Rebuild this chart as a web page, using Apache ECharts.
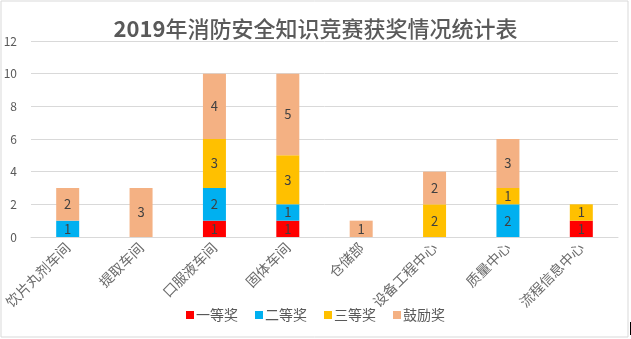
<!DOCTYPE html>
<html>
<head>
<meta charset="utf-8">
<script src="https://cdn.jsdelivr.net/npm/echarts@6/dist/echarts.min.js"></script>
<style>
  html, body { margin: 0; padding: 0; background: #fff; }
  #chart { width: 631px; height: 339px; }
</style>
</head>
<body>
<div id="chart"></div>
<script>
// Departments along the x axis
const departments = ['饮片丸剂车间', '提取车间', '口服液车间', '固体车间', '仓储部', '设备工程中心', '质量中心', '流程信息中心'];
// Award counts per department
const firstPrize = [0, 0, 1, 1, 0, 0, 0, 1];
const secondPrize = [1, 0, 2, 1, 0, 0, 2, 0];
const thirdPrize = [0, 0, 3, 3, 0, 2, 1, 1];
const encouragement = [2, 3, 4, 5, 1, 2, 3, 0];
// Y axis ticks
const yTicks = [0, 2, 4, 6, 8, 10, 12];

const seriesDefs = [
  { name: '一等奖', data: firstPrize, color: '#FF0000' },
  { name: '二等奖', data: secondPrize, color: '#00B0F0' },
  { name: '三等奖', data: thirdPrize, color: '#FFC000' },
  { name: '鼓励奖', data: encouragement, color: '#F4B183' }
];

const font = '"Noto Sans CJK SC", "Noto Sans", sans-serif';

const chart = echarts.init(document.getElementById('chart'), null, { renderer: 'canvas' });

chart.setOption({
  animation: false,
  backgroundColor: '#ffffff',
  textStyle: { fontFamily: font },
  title: {
    text: '{y|2019}{t|年消防安全知识竞赛获奖情况统计表}',
    left: 'center',
    top: 13,
    textStyle: {
      fontFamily: font,
      fontSize: 22,
      color: '#595959',
      rich: {
        y: { fontFamily: font, fontSize: 22, fontWeight: 'bold', color: '#595959' },
        t: { fontFamily: font, fontSize: 22, fontWeight: 500, color: '#5a5a5a' }
      }
    }
  },
  legend: {
    bottom: 12,
    left: 'center',
    itemWidth: 8,
    itemHeight: 8,
    itemGap: 17,
    icon: 'rect',
    textStyle: { fontFamily: font, fontSize: 14, color: '#595959', padding: [0, 0, 0, -3] },
    data: seriesDefs.map(s => s.name)
  },
  grid: { left: 31, right: 13, top: 41, bottom: 102, containLabel: false },
  xAxis: {
    type: 'category',
    data: departments,
    axisLine: { lineStyle: { color: '#d9d9d9' } },
    axisTick: { show: false },
    axisLabel: {
      rotate: 45,
      interval: 0,
      margin: 8,
      color: '#6b6b6b',
      fontSize: 14,
      fontFamily: font
    }
  },
  yAxis: {
    type: 'value',
    min: yTicks[0],
    max: yTicks[yTicks.length - 1],
    interval: 2,
    axisLine: { show: false },
    axisTick: { show: false },
    splitLine: { lineStyle: { color: '#d9d9d9' } },
    axisLabel: { color: '#595959', fontSize: 12, margin: 14, fontFamily: font }
  },
  series: seriesDefs.map(s => ({
    name: s.name,
    type: 'bar',
    stack: 'total',
    barWidth: 23,
    data: s.data,
    itemStyle: { color: s.color },
    label: {
      show: true,
      position: 'inside',
      color: '#404040',
      fontSize: 13,
      fontFamily: font,
      formatter: p => (p.value ? String(p.value) : '')
    }
  })),
  graphic: [
    {
      type: 'rect',
      silent: true,
      shape: { x: 1, y: 1, width: 627, height: 336 },
      style: { fill: 'none', stroke: '#d9d9d9', lineWidth: 1 }
    },
    {
      type: 'rect',
      silent: true,
      shape: { x: 630, y: 322, width: 1, height: 13 },
      style: { fill: '#000000' }
    }
  ]
});
</script>
</body>
</html>
